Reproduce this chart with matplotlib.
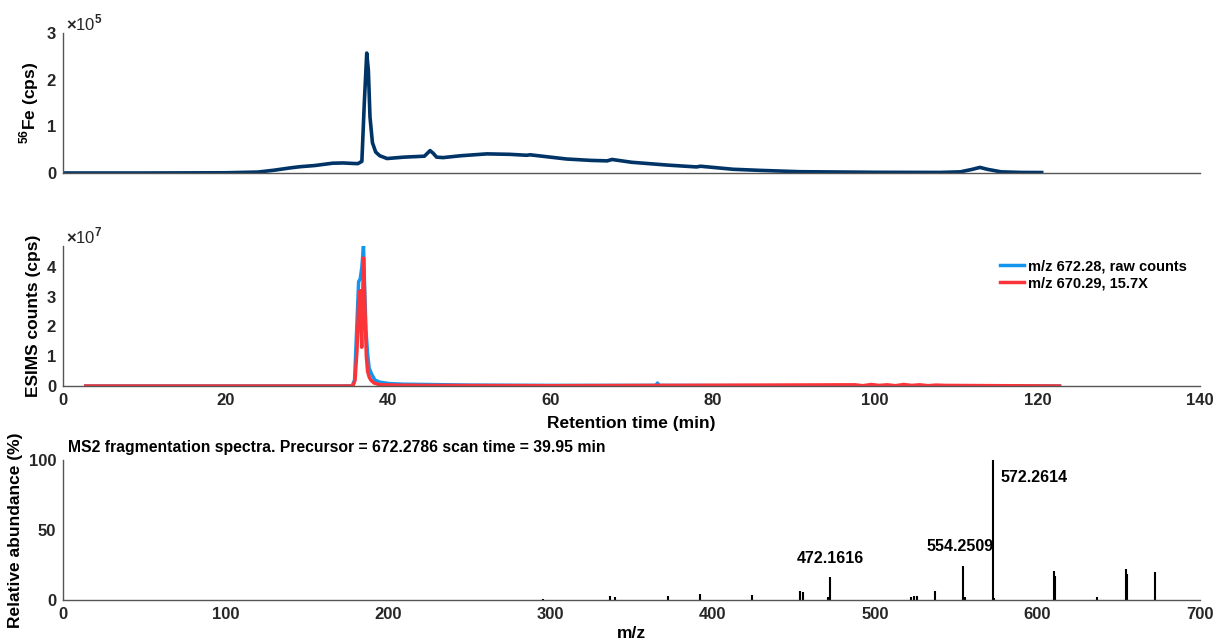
import matplotlib
matplotlib.use('Agg')
import matplotlib.pyplot as plt

plt.rcParams['font.family'] = ['Liberation Sans', 'DejaVu Sans']
plt.rcParams['font.weight'] = 'bold'
plt.rcParams['mathtext.fontset'] = 'custom'
plt.rcParams['mathtext.rm'] = 'Liberation Sans:bold'
plt.rcParams['mathtext.bf'] = 'Liberation Sans:bold'

# 56Fe ICP-MS trace (time in min, cps)
fe_time = [0, 10, 20, 24, 26, 28, 29.2, 31, 33.2, 34.5, 36.3, 36.8, 37.1, 37.4, 37.6,
           37.8, 38.1, 38.5, 39.0, 39.9, 42, 44.5, 45.2, 45.6, 46.0, 46.8, 49, 52.2,
           55, 57.1, 57.5, 60, 62, 65, 67, 67.6, 70, 74.4, 78, 78.5, 82.5, 86, 90.7,
           100, 108, 110.5, 112.0, 112.9, 113.8, 115.5, 118, 120.5]
fe_vals = [0, 0, 500, 2000, 6000, 11000, 13500, 16000, 21000, 21500, 20000, 25000,
           150000, 257000, 220000, 120000, 65000, 45000, 37000, 31000, 34000, 36000,
           48000, 42000, 34000, 33000, 37000, 41000, 40000, 38000, 39000, 34000,
           30000, 27000, 26000, 29000, 23000, 17000, 13000, 14500, 8000, 5500, 2800,
           1500, 1200, 2500, 8000, 12000, 8000, 2500, 1200, 1000]

# ESIMS extracted ion chromatograms (time in min, counts)
esi_time_blue = [2.8, 35.6, 35.9, 36.1, 36.4, 36.6, 36.8, 37.0, 37.15, 37.3, 37.5,
                 37.7, 38.0, 38.4, 39.0, 40.2, 42, 45, 50, 60, 73, 73.2, 73.4, 85,
                 122.7]
esi_blue = [0, 0, 0.2e7, 1.5e7, 3.5e7, 3.6e7, 4.0e7, 4.7e7, 3.2e7, 1.9e7, 1.1e7,
            0.6e7, 0.4e7, 0.2e7, 0.13e7, 0.08e7, 0.06e7, 0.05e7, 0.03e7, 0.02e7,
            0.02e7, 0.1e7, 0.02e7, 0.01e7, 0]

esi_time_red = [2.8, 35.7, 35.96, 36.2, 36.4, 36.6, 36.7, 36.78, 36.9, 37.0, 37.1,
                37.2, 37.35, 37.5, 37.7, 37.9, 38.3, 38.9, 39.5, 41, 45, 60, 97.5,
                98.5, 99.5, 100.5, 101.5, 102.5, 103.5, 104.5, 105.5, 106.5, 107.5,
                108.6, 122.7]
esi_red = [0, 0, 0.2e7, 1.2e7, 2.8e7, 3.2e7, 2.0e7, 1.3e7, 3.0e7, 4.3e7, 3.4e7,
           2.4e7, 1.0e7, 0.5e7, 0.3e7, 0.2e7, 0.1e7, 0.05e7, 0.04e7, 0.03e7,
           0.02e7, 0.01e7, 0.04e7, 0.01e7, 0.05e7, 0.02e7, 0.04e7, 0.01e7, 0.05e7,
           0.02e7, 0.04e7, 0.01e7, 0.03e7, 0.02e7, 0]

# MS2 spectrum (m/z, relative abundance %)
ms2_mz = [295.8, 336.7, 340.0, 372.2, 392.2, 424.2, 453.8, 455.8, 471.1, 472.1616,
          522.3, 523.7, 525.7, 536.8, 554.2509, 555.3, 572.2614, 573.3, 610.3,
          610.8, 636.6, 654.3, 655.0, 672.28]
ms2_int = [1.0, 2.8, 2.3, 2.8, 4.2, 3.5, 6.2, 6.0, 2.4, 16.7, 2.4, 3.1, 3.1, 6.7,
           24.6, 2.5, 100, 1.5, 21.0, 17.0, 1.9, 21.8, 18.5, 19.9]
ms2_labels = ['472.1616', '554.2509', '572.2614']
ms2_label_mz = [472.1616, 554.2509, 572.2614]
ms2_label_int = [16.7, 24.6, 100]

fig = plt.figure(figsize=(12.16, 6.43), dpi=100)
L, W, H = 63 / 1216, 1137 / 1216, 140 / 643
ax1 = fig.add_axes([L, 1 - 173 / 643, W, H])
ax2 = fig.add_axes([L, 1 - 386 / 643, W, H])
ax3 = fig.add_axes([L, 1 - 600 / 643, W, H])

axis_col = '#555555'
for ax in (ax1, ax2, ax3):
    for s in ('top', 'right'):
        ax.spines[s].set_visible(False)
    for s in ('left', 'bottom'):
        ax.spines[s].set_color(axis_col)
        ax.spines[s].set_linewidth(1.0)
    ax.tick_params(length=0, labelsize=12, colors='#262626', pad=5)

# top panel
ax1.plot(fe_time, fe_vals, color='#003466', lw=2.6)
ax1.set_xlim(0, 140)
ax1.set_ylim(0, 3e5)
ax1.set_xticks([])
ax1.set_yticks([0, 1e5, 2e5, 3e5])
ax1.set_yticklabels(['0', '1', '2', '3'])
ax1.set_ylabel(r'$^{56}$Fe (cps)', fontsize=12.5, fontweight='bold')
ax1.text(0.003, 1.0, r'$\times$10$^5$', transform=ax1.transAxes, fontsize=12,
         fontweight='normal', va='bottom', ha='left', color='#262626')

# middle panel
ax2.plot(esi_time_blue, esi_blue, color='#1596ee', lw=2.5, label='m/z 672.28, raw counts')
ax2.plot(esi_time_red, esi_red, color='#fa3438', lw=2.5, label='m/z 670.29, 15.7X')
ax2.set_xlim(0, 140)
ax2.set_ylim(0, 4.7e7)
ax2.set_xticks([0, 20, 40, 60, 80, 100, 120, 140])
ax2.set_yticks([0, 1e7, 2e7, 3e7, 4e7])
ax2.set_yticklabels(['0', '1', '2', '3', '4'])
ax2.set_xlabel('Retention time (min)', fontsize=12.5, fontweight='bold', labelpad=6)
ax2.set_ylabel('ESIMS counts (cps)', fontsize=12.5, fontweight='bold')
ax2.text(0.003, 1.0, r'$\times$10$^7$', transform=ax2.transAxes, fontsize=12,
         fontweight='normal', va='bottom', ha='left', color='#262626')
ax2.legend(loc='upper right', bbox_to_anchor=(1.0, 1.0), frameon=False,
           fontsize=10.5, handlelength=1.6, handletextpad=0.3, labelspacing=0.2)

# bottom panel
ax3.vlines(ms2_mz, 0, ms2_int, color='black', lw=1.5)
ax3.set_xlim(0, 700)
ax3.set_ylim(0, 100)
ax3.set_xticks([0, 100, 200, 300, 400, 500, 600, 700])
ax3.set_yticks([0, 50, 100])
ax3.set_xlabel('m/z', fontsize=12.5, fontweight='bold', labelpad=3)
ax3.set_ylabel('Relative abundance (%)', fontsize=12.5, fontweight='bold')
ax3.set_title('MS2 fragmentation spectra. Precursor = 672.2786 scan time = 39.95 min',
              loc='left', fontsize=11.3, fontweight='bold', pad=6, x=0.004)
ax3.annotate(ms2_labels[0], (ms2_label_mz[0], ms2_label_int[0]), xytext=(0, 8),
             textcoords='offset points', ha='center', va='bottom', fontsize=11.5,
             fontweight='bold')
ax3.annotate(ms2_labels[1], (ms2_label_mz[1], ms2_label_int[1]), xytext=(-2, 8),
             textcoords='offset points', ha='center', va='bottom', fontsize=11.5,
             fontweight='bold')
ax3.annotate(ms2_labels[2], (ms2_label_mz[2], ms2_label_int[2]), xytext=(6, -18),
             textcoords='offset points', ha='left', va='bottom', fontsize=11.5,
             fontweight='bold')

fig.savefig('out.png', dpi=100)
